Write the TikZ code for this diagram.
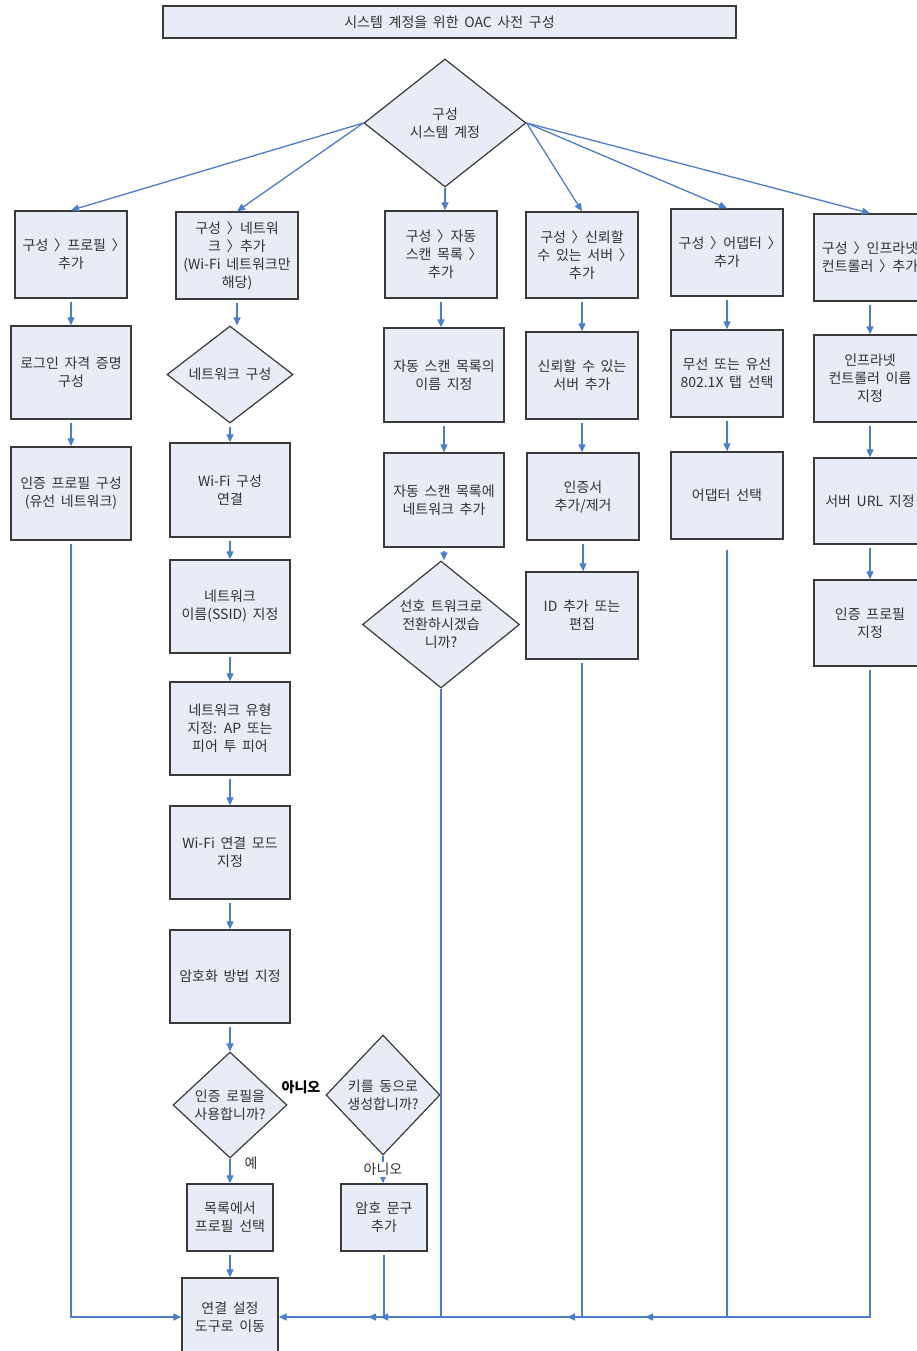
\documentclass[tikz,border=0pt]{standalone}
\usepackage{fontspec}
\setmainfont{Noto Sans CJK KR}[WordSpace=1.8]
\usetikzlibrary{arrows.meta,shapes.geometric}
\definecolor{boxfill}{RGB}{232,236,246}
\definecolor{boxline}{RGB}{58,58,58}
\definecolor{linec}{RGB}{76,125,200}
\definecolor{txt}{RGB}{50,50,50}
\tikzset{
  lbl/.style={font=\fontsize{14}{18}\selectfont, text=txt},
  box/.style={lbl, draw=boxline, fill=boxfill, line width=1.4pt, align=center,
              inner sep=1pt, minimum width=#1},
  box/.default=112pt,
  dia/.style={lbl, diamond, draw=boxline, fill=boxfill, line width=1.2pt,
              align=center, inner sep=0pt},
  conn/.style={draw=linec, line width=1.3pt, -{Triangle[length=8pt,width=7pt]}},
  down/.style={conn, shorten <=3pt},
}
% narrow chevron used in the menu paths
\newcommand{\gt}{\makebox[0.55em][l]{〉}}
\begin{document}
\begin{tikzpicture}[x=1pt,y=-1pt]
\clip (0,0) rectangle (917,1351);
\fill[white] (0,0) rectangle (917,1351);

% title and the root decision
\node[box=573pt, minimum height=32pt, line width=1.2pt] (title) at (449.5,22) {시스템 계정을 위한 OAC 사전 구성};
\node[dia, aspect=1.27, minimum width=162pt, minimum height=128pt] (top) at (445,123) {구성\\시스템 계정};

% first row
\node[box, minimum height=87pt] (a1) at (71,254.5) {구성 \gt{} 프로필 \gt\\추가};
\node[box=122pt, minimum height=87pt] (a2) at (237,255.5) {구성 \gt{} 네트워\\크 \gt{} 추가\\(Wi-Fi 네트워크만\\해당)};
\node[box=112pt, minimum height=87pt] (a3) at (441,254.5) {구성 \gt{} 자동\\스캔 목록 \gt\\추가};
\node[box, minimum height=86pt] (a4) at (582,255) {구성 \gt{} 신뢰할\\수 있는 서버 \gt\\추가};
\node[box, minimum height=87pt] (a5) at (727,252.5) {구성 \gt{} 어댑터 \gt\\추가};
\node[box, minimum height=87pt] (a6) at (870,257.5) {구성 \gt{} 인프라넷\\컨트롤러 \gt{} 추가};

% second row
\node[box=120pt, minimum height=93pt] (b1) at (71,372.5) {로그인 자격 증명\\구성};
\node[dia, aspect=1.3, minimum width=126pt, minimum height=97pt] (b2) at (230,374.5) {네트워크 구성};
\node[box=120pt, minimum height=94pt] (b3) at (444,375) {자동 스캔 목록의\\이름 지정};
\node[box, minimum height=87pt] (b4) at (582,375.5) {신뢰할 수 있는\\서버 추가};
\node[box, minimum height=87pt] (b5) at (727,373.5) {무선 또는 유선\\802.1X 탭 선택};
\node[box, minimum height=87pt] (b6) at (870,378.5) {인프라넷\\컨트롤러 이름\\지정};

% third row
\node[box=120pt, minimum height=93pt] (c1) at (71,493.5) {인증 프로필 구성\\(유선 네트워크)};
\node[box=120pt, minimum height=94pt] (c2) at (230,490) {Wi-Fi 구성\\연결};
\node[box=120pt, minimum height=94pt] (c3) at (444,500) {자동 스캔 목록에\\네트워크 추가};
\node[box=112pt, minimum height=87pt] (c4) at (583,496.5) {인증서\\추가/제거};
\node[box, minimum height=87pt] (c5) at (727,495.5) {어댑터 선택};
\node[box, minimum height=86pt] (c6) at (870,501) {서버 URL 지정};

% fourth row
\node[box=120pt, minimum height=93pt] (d2) at (230,606.5) {네트워크\\이름(SSID) 지정};
\node[dia, aspect=1.24, minimum width=157pt, minimum height=127pt] (d3) at (441,624.5) {선호 트워크로\\전환하시겠습\\니까?};
\node[box=112pt, minimum height=87pt] (d4) at (582,615.5) {ID 추가 또는\\편집};
\node[box, minimum height=86pt] (d6) at (870,623) {인증 프로필\\지정};

% Wi-Fi column
\node[box=120pt, minimum height=93pt] (e2) at (230,728.5) {네트워크 유형\\지정: AP 또는\\피어 투 피어};
\node[box=120pt, minimum height=93pt] (f2) at (230,852.5) {Wi-Fi 연결 모드\\지정};
\node[box=120pt, minimum height=93pt] (g2) at (230,976.5) {암호화 방법 지정};
\node[dia, aspect=1.08, minimum width=114pt, minimum height=106pt] (h2) at (230,1105) {인증 로필을\\사용합니까?};
\node[dia, aspect=0.95, minimum width=114pt, minimum height=120pt] (h3) at (383,1095) {키를 동으로\\생성합니까?};
\node[box=86pt, minimum height=67pt] (i2) at (230,1217.5) {목록에서\\프로필 선택};
\node[box=86pt, minimum height=67pt] (i3) at (384,1217.5) {암호 문구\\추가};
\node[box=96pt, minimum height=78pt] (goto) at (230,1317) {연결 설정\\도구로 이동};

\node[font=\fontsize{14}{16}\selectfont\bfseries, text=black] (no1) at (301,1087) {아니오};

% branches from the root
\draw[conn] (top.west) -- (a1.north);
\draw[conn] (top.west) -- (a2.north);
\draw[conn] (top.south) -- (top.south |- a3.north);
\draw[conn] (top.east) -- (a4.north);
\draw[conn] (top.east) -- (a5.north);
\draw[conn] (top.east) -- (a6.north);

% column steps
\foreach \u/\v in {a1/b1,b1/c1,a2/b2,b2/c2,c2/d2,d2/e2,e2/f2,f2/g2,g2/h2,i2/goto,
                   a3/b3,b3/c3,c3/d3,a4/b4,b4/c4,c4/d4,a5/b5,b5/c5,a6/b6,b6/c6,c6/d6}
  \draw[down] (\u.south) -- (\u.south |- \v.north);

\draw[conn] (h2.south) -- (h2.south |- i2.north);
\node[lbl] (yes) at (251,1163) {예};
\draw[conn] (h3.south) -- node[lbl, fill=white, inner sep=1pt] (no2) {아니오} (h3.south |- i3.north);

% return lines along the bottom
\coordinate (j3) at (380,1317);
\coordinate (j4) at (567,1317);
\coordinate (j5) at (645,1317);
\coordinate (j6) at (368,1317);
\draw[down] (c1.south) |- (goto.west);
\draw[down] (i3.south) |- (goto.east);
\draw[conn] (d3.south) |- (j3);
\draw[down] (d4.south) |- (j4);
\draw[conn, shorten <=10pt] (c5.south) |- (j5);
\draw[down] (d6.south) |- (j6);
\end{tikzpicture}
\end{document}
